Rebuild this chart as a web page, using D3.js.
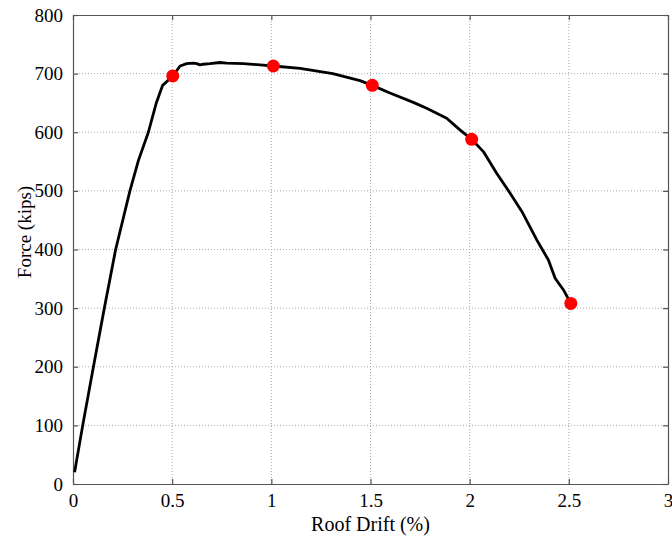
<!DOCTYPE html>
<html><head><meta charset="utf-8">
<script src="https://cdn.jsdelivr.net/npm/d3@7"></script>
<style>body{margin:0;background:#fff}svg{display:block}</style>
</head><body>
<svg id="c" width="672" height="538"></svg>
<script>
const xTicks = [0, 0.5, 1, 1.5, 2, 2.5, 3];
const yTicks = [0, 100, 200, 300, 400, 500, 600, 700, 800];
const curveDrift = [0.008,0.049,0.103,0.158,0.215,0.287,0.33,0.38,0.42,0.452,0.503,0.54,0.573,0.607,0.624,0.64,0.657,0.69,0.741,0.775,0.859,0.943,1.01,1.145,1.31,1.447,1.509,1.598,1.716,1.783,1.884,1.951,2.01,2.069,2.136,2.204,2.263,2.339,2.397,2.431,2.473,2.51];
const curveForce = [20,100,200,300,400,500,552,600,650,680,696,713,717,718,717,715,716,717,719,718,717,715,713,709,700,688,680,667,651,641,624,604,588,567,530,496,465,416,382,351,331,308];
const markDrift = [0.503,1.01,1.509,2.01,2.51];
const markForce = [696,713,680,588,308];

const svg = d3.select("#c");
const L=73, R=668, T=15, B=484;
const x = d3.scaleLinear().domain([0,3]).range([L,R]);
const y = d3.scaleLinear().domain([0,800]).range([B,T]);
const font = "'Liberation Serif','Times New Roman',serif";

// grid
svg.append("g").selectAll("line").data(xTicks.slice(1,-1)).join("line")
  .attr("x1",d=>x(d)).attr("x2",d=>x(d)).attr("y1",T).attr("y2",B)
  .attr("stroke","#aaa").attr("stroke-width",1).attr("stroke-dasharray","1,2");
svg.append("g").selectAll("line").data(yTicks.slice(1,-1)).join("line")
  .attr("y1",d=>y(d)).attr("y2",d=>y(d)).attr("x1",L).attr("x2",R)
  .attr("stroke","#aaa").attr("stroke-width",1).attr("stroke-dasharray","1,2");

// axes
const xb = svg.append("g").attr("transform",`translate(0,${B})`)
  .call(d3.axisBottom(x).tickValues(xTicks).tickSizeInner(-5).tickSizeOuter(0).tickPadding(10).tickFormat(d3.format("")));
const xt = svg.append("g").attr("transform",`translate(0,${T})`)
  .call(d3.axisTop(x).tickValues(xTicks).tickSizeInner(-5).tickSizeOuter(0).tickFormat(""));
const yl = svg.append("g").attr("transform",`translate(${L},0)`)
  .call(d3.axisLeft(y).tickValues(yTicks).tickSizeInner(-5).tickSizeOuter(0).tickPadding(10));
const yr = svg.append("g").attr("transform",`translate(${R},0)`)
  .call(d3.axisRight(y).tickValues(yTicks).tickSizeInner(-5).tickSizeOuter(0).tickFormat(""));
[xb,xt,yl,yr].forEach(g=>{
  g.selectAll("path").attr("stroke","#555").attr("stroke-width",1.2);
  g.selectAll("line").attr("stroke","#555").attr("stroke-width",1.2);
  g.selectAll("text").attr("fill","#000").style("font-family",font).style("font-size","19px");
});

// curve
const pts = curveDrift.map((d,i)=>[d,curveForce[i]]);
svg.append("path").datum(pts)
  .attr("d", d3.line().x(d=>x(d[0])).y(d=>y(d[1])))
  .attr("fill","none").attr("stroke","#000").attr("stroke-width",2.8).attr("stroke-linejoin","round");

svg.append("g").selectAll("circle").data(markDrift).join("circle")
  .attr("cx",d=>x(d)).attr("cy",(d,i)=>y(markForce[i])).attr("r",6.5).attr("fill","#ff0000");

// labels
svg.append("text").attr("x",(L+R)/2).attr("y",531).attr("text-anchor","middle")
  .style("font-family",font).style("font-size","20px").text("Roof Drift (%)");
svg.append("text").attr("transform","translate(31,232) rotate(-90)").attr("text-anchor","middle")
  .style("font-family",font).style("font-size","19px").text("Force (kips)");
</script>
</body></html>
